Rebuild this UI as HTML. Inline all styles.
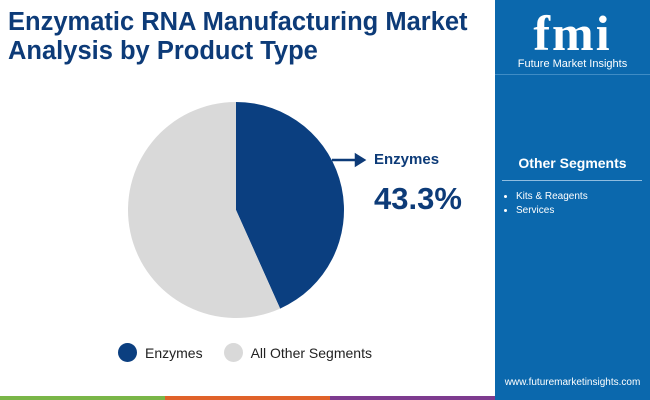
<!DOCTYPE html>
<html><head><meta charset="utf-8"><style>
body{margin:0;width:650px;height:400px;position:relative;overflow:hidden;background:#fff;font-family:"Liberation Sans",sans-serif}
.abs{position:absolute}
</style></head><body>
<div class="abs" style="left:8px;top:8px;font-size:25.5px;font-weight:bold;color:#0d3b78;line-height:29px;width:490px;white-space:nowrap">Enzymatic RNA Manufacturing Market<br>Analysis by Product Type</div>
<div class="abs" style="left:495px;top:0;width:155px;height:400px;background:#0b68ad"></div>
<div class="abs" style="left:495px;top:8px;width:155px;text-align:center;color:#fff">
<div style="font-size:50px;font-weight:bold;font-family:'Liberation Serif',serif;line-height:50px;letter-spacing:2px">fmi</div>
<div style="font-size:11px">Future Market Insights</div></div>
<div class="abs" style="left:495px;top:74px;width:155px;height:1px;background:#3f8cc5"></div>
<div class="abs" style="left:495px;top:155px;width:155px;text-align:center;color:#fff;font-weight:bold;font-size:14px">Other Segments</div>
<div class="abs" style="left:502px;top:180px;width:140px;height:1px;background:#8fbde0"></div>
<ul class="abs" style="left:498px;top:190px;margin:0;padding-left:18px;color:#fff;font-size:10px;line-height:14px">
<li>Kits &amp; Reagents</li>
<li>Services</li></ul>
<div class="abs" style="left:495px;top:377px;width:155px;text-align:center;color:#fff;font-size:10px">www.futuremarketinsights.com</div>
<div class="abs" style="left:0;top:396px;width:165px;height:4px;background:#7ab648"></div>
<div class="abs" style="left:165px;top:396px;width:165px;height:4px;background:#e0622a"></div>
<div class="abs" style="left:330px;top:396px;width:165px;height:4px;background:#7e3b8f"></div>
<svg class="abs" style="left:0;top:0" width="495" height="396" id="chart"></svg>
<div class="abs" style="left:374px;top:151px;font-size:15px;font-weight:bold;color:#0d3b78">Enzymes</div>
<div class="abs" style="left:374px;top:181px;font-size:31px;font-weight:bold;color:#0d3b78">43.3%</div>
<div class="abs" style="left:118px;top:343px;font-size:14px;color:#222;display:flex;align-items:center">
<span style="width:19px;height:19px;border-radius:50%;background:#0b3f80;display:inline-block;margin-right:8px"></span><span>Enzymes</span>
<span style="width:19px;height:19px;border-radius:50%;background:#d9d9d9;display:inline-block;margin:0 8px 0 21px"></span><span>All Other Segments</span></div>
<script>
const categories=["Enzymes","All Other Segments"];
const values=[43.3,56.7];
const colors=["#0b3f80","#d9d9d9"];
const svg=document.getElementById('chart');const NS="http://www.w3.org/2000/svg";
const cx=236,cy=210,r=108;const total=values.reduce((a,b)=>a+b,0);
let a0=0;
values.forEach((v,i)=>{const a1=a0+v/total*2*Math.PI;
const x0=cx+r*Math.sin(a0),y0=cy-r*Math.cos(a0),x1=cx+r*Math.sin(a1),y1=cy-r*Math.cos(a1);
const p=document.createElementNS(NS,'path');
p.setAttribute('d',`M${cx},${cy}L${x0},${y0}A${r},${r} 0 ${a1-a0>Math.PI?1:0} 1 ${x1},${y1}Z`);
p.setAttribute('fill',colors[i]);


svg.appendChild(p);a0=a1;});
const ar=document.createElementNS(NS,'path');
ar.setAttribute('d','M332,160L362,160M356,155L364,160L356,165Z');
ar.setAttribute('stroke','#0d3b78');ar.setAttribute('stroke-width','2.5');ar.setAttribute('fill','#0d3b78');


svg.appendChild(ar);
</script>
</body></html>
